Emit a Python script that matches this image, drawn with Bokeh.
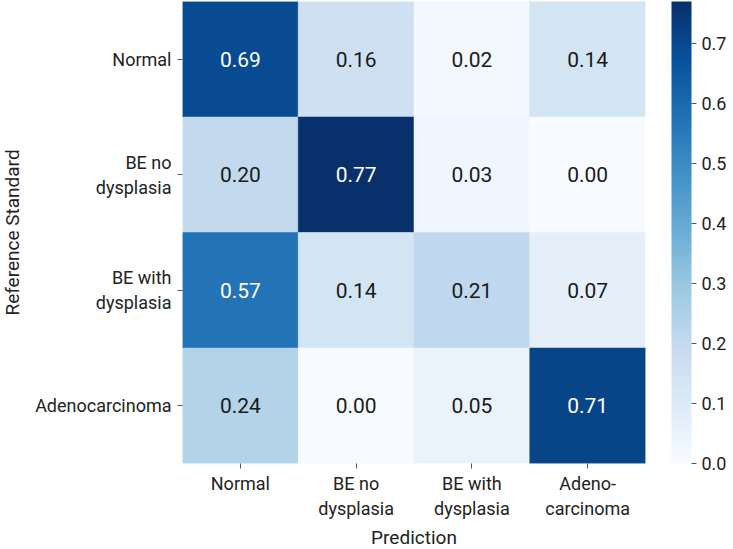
from bokeh.plotting import figure
from bokeh.models import (ColumnDataSource, LinearColorMapper, ColorBar, FixedTicker, FactorRange,
                          PrintfTickFormatter)
from bokeh.palettes import Blues256
from bokeh.core.properties import value
from bokeh.transform import transform
from bokeh.embed import file_html
from bokeh.resources import INLINE

# ---- data ----
pred_labels = ["Normal", "BE no\ndysplasia", "BE with\ndysplasia", "Adeno-\ncarcinoma"]
ref_labels = ["Normal", "BE no\ndysplasia", "BE with\ndysplasia", "Adenocarcinoma"]
row_normal = [0.69, 0.16, 0.02, 0.14]
row_be_no = [0.20, 0.77, 0.03, 0.00]
row_be_with = [0.57, 0.14, 0.21, 0.07]
row_adeno = [0.24, 0.00, 0.05, 0.71]
colorbar_ticks = [0.0, 0.1, 0.2, 0.3, 0.4, 0.5, 0.6, 0.7]

matrix = [row_normal, row_be_no, row_be_with, row_adeno]
xs, ys, vals, txt, tcol = [], [], [], [], []
for r, row in zip(ref_labels, matrix):
    for c, v in zip(pred_labels, row):
        xs.append(c)
        ys.append(r)
        vals.append(v)
        txt.append(f"{v:.2f}")
        tcol.append("white" if v > 0.45 else "#1a1a1a")

src = ColumnDataSource(dict(x=xs, y=ys, v=vals, t=txt, tc=tcol))

FONT = "Roboto"
mapper = LinearColorMapper(palette=list(reversed(Blues256)), low=0.0, high=max(max(r) for r in matrix))

FW, FH = 463, 462
p = figure(x_range=FactorRange(*pred_labels), y_range=FactorRange(*reversed(ref_labels)),
           frame_width=FW, frame_height=FH, output_backend="svg", toolbar_location=None,
           min_border_left=190, min_border_top=8, min_border_right=85, min_border_bottom=0,
           margin=(-7, 0, -8, -8))
p.outline_line_color = None
p.grid.grid_line_color = None
p.background_fill_color = "white"

p.rect(x="x", y="y", width=1, height=1, source=src,
       fill_color=transform("v", mapper), line_color=transform("v", mapper), line_width=0.5)
p.text(x="x", y="y", text="t", source=src, text_align="center", text_baseline="middle",
       text_font=value(FONT), text_font_size="21px", text_color="tc")

for ax in (p.xaxis[0], p.yaxis[0]):
    ax.axis_line_color = None
    ax.major_tick_line_color = "#555555"
    ax.major_tick_out = 5
    ax.major_tick_in = 0
    ax.minor_tick_line_color = None
    ax.major_label_text_font = FONT
    ax.major_label_text_font_size = "18px"
    ax.major_label_text_color = "#222222"
    ax.axis_label_text_font = FONT
    ax.axis_label_text_font_size = "19px"
    ax.axis_label_text_font_style = "normal"
    ax.axis_label_text_color = "#222222"

p.xaxis.axis_label = "Prediction"
p.yaxis.axis_label = "Reference Standard"
p.xaxis.major_label_standoff = 4
p.yaxis.major_label_standoff = 6
p.xaxis.axis_label_standoff = 4
p.yaxis.axis_label_standoff = 8

cb = ColorBar(color_mapper=mapper, ticker=FixedTicker(ticks=colorbar_ticks), width=20, height=FH,
              location=(FW + 26, 0), margin=0, padding=0, bar_line_color=None,
              background_fill_alpha=0, border_line_color=None,
              major_tick_in=0, major_tick_out=5, major_tick_line_color="#555555",
              minor_tick_line_color=None, label_standoff=5,
              major_label_text_font=FONT, major_label_text_font_size="18px",
              major_label_text_color="#222222",
              formatter=PrintfTickFormatter(format="%.1f"))
p.add_layout(cb, "center")

open("out.html", "w").write(file_html(p, INLINE))
